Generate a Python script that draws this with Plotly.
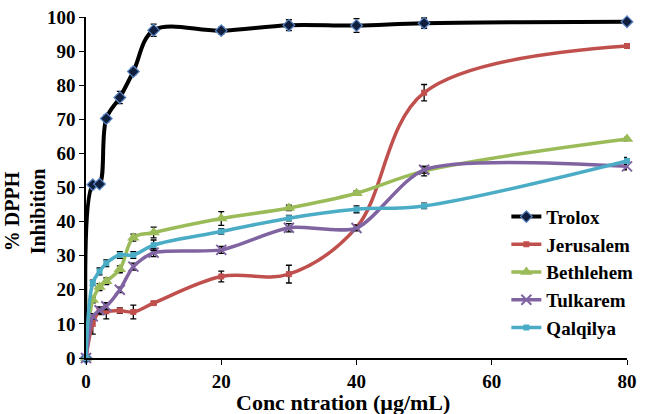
import plotly.graph_objects as go

conc = [0, 1, 2, 3, 5, 7, 10, 20, 30, 40, 50, 80]

trolox = [0, 50.8, 51.0, 70.2, 76.4, 84.0, 96.1, 96.0, 97.6, 97.5, 98.2, 98.6]
trolox_err = [0, 0.5, 0.5, 1.0, 1.8, 1.0, 1.8, 1.0, 1.6, 2.0, 1.5, 0.5]

jerusalem = [0, 10.0, 13.7, 13.7, 13.9, 13.5, 16.1, 23.9, 24.6, 38.3, 77.8, 91.5]
jerusalem_err = [0, 3.0, 1.0, 2.2, 0.8, 2.0, 0.4, 1.6, 2.6, 0.8, 2.4, 0.4]

bethlehem = [0, 17.0, 20.8, 22.5, 26.0, 35.3, 36.8, 40.9, 44.0, 48.3, 54.8, 64.2]
bethlehem_err = [0, 0.8, 1.0, 1.0, 1.0, 1.0, 1.6, 2.0, 0.8, 0.6, 1.4, 0.5]

tulkarem = [0, 12.2, 14.0, 15.2, 20.0, 26.8, 30.9, 31.7, 38.2, 38.1, 55.2, 56.2]
tulkarem_err = [0, 0.8, 1.0, 1.0, 0.8, 1.0, 1.2, 1.0, 1.2, 0.8, 1.0, 1.0]

qalqilya = [0, 22.0, 25.4, 27.8, 30.2, 30.2, 33.1, 37.1, 41.0, 43.6, 44.6, 57.8]
qalqilya_err = [0, 0.8, 1.0, 1.0, 1.0, 1.0, 1.5, 0.8, 0.8, 1.0, 0.8, 1.0]

x_ticks = [0, 20, 40, 60, 80]
y_ticks = [0, 10, 20, 30, 40, 50, 60, 70, 80, 90, 100]

FONT = "Liberation Serif, Times New Roman, serif"

series = [
    ("Trolox", trolox, trolox_err, "black", dict(symbol="diamond", size=9, color="#0f1f3d", line=dict(color="#5b86c5", width=1.2)), 4, 1.0),
    ("Jerusalem", jerusalem, jerusalem_err, "#C0504D", dict(symbol="square", size=6, color="#C0504D"), 3.5, 1.0),
    ("Bethlehem", bethlehem, bethlehem_err, "#9BBB59", dict(symbol="triangle-up", size=11, color="#9BBB59"), 3.5, 1.0),
    ("Tulkarem", tulkarem, tulkarem_err, "#8064A2", dict(symbol="x-thin", size=10, color="#8064A2", line=dict(color="#8064A2", width=2)), 3.5, 0.7),
    ("Qalqilya", qalqilya, qalqilya_err, "#4BACC6", dict(symbol="square", size=6, color="#4BACC6"), 3.5, 1.0),
]

fig = go.Figure()
for name, ys, err, col, mk, lw, sm in series:
    fig.add_trace(go.Scatter(
        x=conc, y=ys, name="<b>" + name + "</b>", mode="lines+markers",
        line=dict(color=col, width=lw, shape="spline", smoothing=sm),
        marker=mk,
        error_y=dict(type="data", array=err, visible=True, color="black", thickness=1.3, width=3),
        cliponaxis=False,
    ))

tickfont = dict(family=FONT, size=19, color="black")

fig.update_layout(
    width=645, height=414,
    margin=dict(l=86, r=9, t=7, b=56),
    paper_bgcolor="white", plot_bgcolor="white",
    font=dict(family=FONT, size=19, color="black"),
    showlegend=True,
    legend=dict(x=0.777, y=0.47, xanchor="left", yanchor="top",
                font=dict(family=FONT, size=19, color="black"),
                bgcolor="rgba(0,0,0,0)", tracegroupgap=0, itemwidth=30),
    xaxis=dict(range=[0, 80], tickvals=x_ticks, ticktext=["<b>%d</b>" % v for v in x_ticks],
               showgrid=False, zeroline=False,
               showline=True, linecolor="black", linewidth=1.5, ticks="outside",
               ticklen=5, tickcolor="black", tickwidth=1.2, ticklabeloverflow="allow",
               tickfont=tickfont),
    yaxis=dict(range=[0, 100], tickvals=y_ticks, ticktext=["<b>%d</b>" % v for v in y_ticks],
               showgrid=False, zeroline=False,
               showline=True, linecolor="black", linewidth=1.5, ticks="outside",
               ticklen=5, tickcolor="black", tickwidth=1.2, ticklabeloverflow="allow",
               tickfont=tickfont),
    annotations=[
        dict(text="<b>Conc ntration (µg/mL)</b>", xref="paper", yref="paper",
             x=(347 - 86) / 550, y=-(404 - 358) / 351, xanchor="center", yanchor="middle",
             showarrow=False, font=dict(family=FONT, size=22, color="black")),
        dict(text="<b>% DPPH<br>Inhibition</b>", xref="paper", yref="paper",
             x=-(86 - 24) / 550, y=(358 - 207) / 351, xanchor="center", yanchor="middle",
             textangle=-90, showarrow=False,
             font=dict(family=FONT, size=20, color="black")),
    ],
)

fig.write_html("out.html", config={"displayModeBar": False},
               post_script="document.body.style.margin='0';document.body.style.padding='0';")
